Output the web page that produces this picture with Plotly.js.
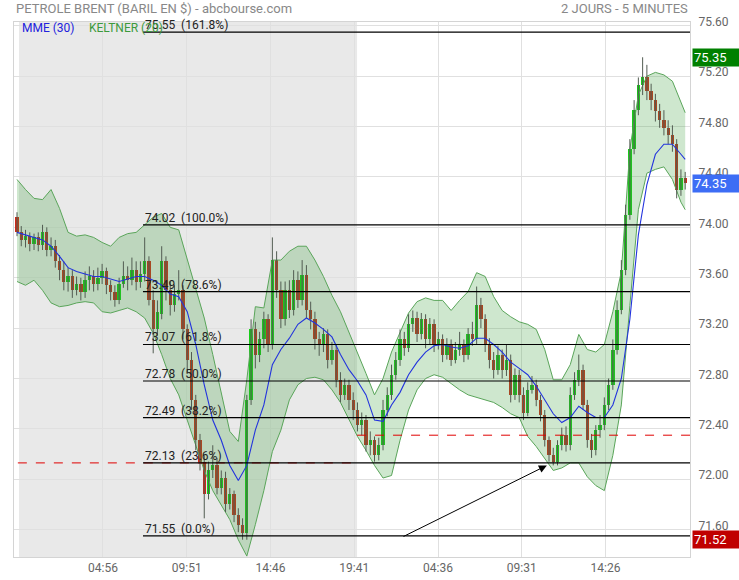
<!DOCTYPE html>
<html><head><meta charset="utf-8">
<script src="https://cdn.plot.ly/plotly-3.0.1.min.js"></script>
<style>html,body{margin:0;padding:0;background:#fff}#chart{width:739px;height:580px}</style>
</head><body><div id="chart"></div>
<script>
const timeLabels = ['04:56','09:51','14:46','19:41','04:36','09:31','14:26'];

const open = [
74.08,73.96,73.90,73.93,73.87,73.92,73.86,73.96,73.82,73.85,
73.73,73.66,73.57,73.61,73.50,73.55,73.49,73.58,73.61,73.55,
73.60,73.65,73.54,73.49,73.42,73.55,73.61,73.58,73.66,73.57,
73.63,73.73,73.42,73.19,73.31,73.73,73.50,73.38,73.47,73.50,
73.19,72.95,72.63,72.31,72.14,71.88,72.07,72.11,71.93,72.01,
71.80,71.88,71.72,71.64,71.57,72.63,73.19,72.99,73.11,73.27,
73.07,73.74,73.50,73.27,73.50,73.34,73.58,73.42,73.62,73.34,
73.27,73.11,73.07,73.15,72.95,73.03,72.79,72.67,72.75,72.63,
72.55,72.43,72.47,72.27,72.31,72.19,72.27,72.55,72.67,72.83,
72.95,73.11,73.04,73.23,73.28,73.15,73.27,73.11,73.23,73.07,
73.11,72.99,73.07,72.95,73.03,73.07,72.99,73.15,73.11,73.38,
73.27,73.07,72.95,72.87,72.99,72.87,72.95,72.67,72.83,72.67,
72.53,72.71,72.75,72.63,72.51,72.31,72.19,72.14,72.27,72.35,
72.27,72.67,72.79,72.87,72.59,72.31,72.23,72.39,72.43,72.59,
72.75,73.03,73.34,73.66,74.10,74.62,74.93,75.13,75.19,75.08,
75.01,74.92,74.85,74.79,74.73,74.66,74.30,74.39];

const close = [
73.96,73.90,73.93,73.87,73.92,73.86,73.96,73.82,73.85,73.73,
73.66,73.57,73.61,73.50,73.55,73.49,73.58,73.61,73.55,73.60,
73.65,73.54,73.49,73.42,73.55,73.61,73.58,73.66,73.57,73.63,
73.73,73.42,73.19,73.33,73.73,73.50,73.38,73.47,73.50,73.19,
72.95,72.63,72.31,72.14,71.88,72.07,72.11,71.93,72.01,71.80,
71.88,71.72,71.64,71.57,72.63,73.19,72.99,73.11,73.27,73.07,
73.74,73.50,73.27,73.50,73.34,73.58,73.42,73.62,73.34,73.27,
73.11,73.07,73.15,72.95,73.03,72.79,72.67,72.75,72.63,72.55,
72.43,72.47,72.27,72.31,72.19,72.27,72.55,72.67,72.83,72.95,
73.11,73.04,73.23,73.28,73.15,73.27,73.11,73.23,73.07,73.11,
72.99,73.07,72.95,73.03,73.07,72.99,73.15,73.11,73.38,73.27,
73.07,72.95,72.87,72.99,72.87,72.95,72.67,72.83,72.67,72.53,
72.71,72.75,72.63,72.51,72.31,72.19,72.14,72.27,72.35,72.27,
72.67,72.79,72.87,72.59,72.31,72.23,72.39,72.43,72.59,72.75,
73.03,73.34,73.66,74.10,74.62,74.93,75.13,75.19,75.08,75.01,
74.92,74.85,74.79,74.73,74.66,74.30,74.39,74.35];

const high = [
74.12,74.01,73.98,73.96,73.95,73.96,74.02,74.00,73.92,73.90,
73.78,73.73,73.68,73.66,73.61,73.60,73.65,73.69,73.66,73.68,
73.71,73.68,73.58,73.54,73.60,73.73,73.69,73.76,73.73,73.73,
73.92,73.77,73.50,73.42,73.85,73.77,73.57,73.54,73.66,73.54,
73.23,73.01,72.67,72.36,72.19,72.14,72.27,72.17,72.07,72.06,
71.93,71.91,71.77,71.69,72.67,73.27,73.25,73.17,73.33,73.31,
73.92,73.81,73.57,73.57,73.58,73.66,73.65,73.74,73.70,73.41,
73.33,73.17,73.20,73.19,73.09,73.07,72.85,72.80,72.79,72.69,
72.61,72.53,72.51,72.38,72.34,72.33,72.63,72.73,72.91,73.01,
73.19,73.17,73.31,73.34,73.33,73.32,73.31,73.28,73.27,73.17,
73.15,73.12,73.11,73.09,73.17,73.11,73.20,73.25,73.53,73.44,
73.31,73.12,73.01,73.06,73.03,73.07,72.99,72.88,72.87,72.73,
72.77,72.82,72.79,72.67,72.55,72.34,72.25,72.31,72.41,72.42,
72.73,72.85,72.99,72.91,72.63,72.36,72.43,72.51,72.65,72.80,
73.11,73.42,73.74,74.18,74.70,75.01,75.19,75.35,75.29,75.14,
75.06,74.98,74.93,74.85,74.81,74.70,74.46,74.44];

const low = [
73.93,73.85,73.84,73.81,73.82,73.81,73.82,73.77,73.77,73.68,
73.58,73.50,73.49,73.44,73.46,73.42,73.44,73.50,73.49,73.50,
73.55,73.47,73.42,73.37,73.39,73.52,73.50,73.54,73.50,73.52,
73.57,73.38,73.00,73.14,73.27,73.42,73.30,73.33,73.42,73.11,
72.85,72.55,72.23,72.07,71.69,71.84,72.01,71.88,71.88,71.74,
71.76,71.66,71.58,71.52,71.52,72.59,72.88,72.93,73.04,73.01,
73.03,73.44,73.20,73.22,73.28,73.30,73.36,73.38,73.28,73.19,
73.03,72.98,73.01,72.88,72.91,72.73,72.61,72.63,72.55,72.47,
72.38,72.35,72.22,72.19,72.14,72.15,72.23,72.50,72.63,72.79,
72.90,72.98,73.01,73.17,73.09,73.11,73.04,73.07,73.01,73.03,
72.93,72.95,72.90,72.92,72.98,72.93,72.95,73.06,73.07,73.20,
73.01,72.88,72.80,72.83,72.80,72.82,72.61,72.63,72.61,72.47,
72.50,72.68,72.58,72.46,72.26,72.14,72.11,72.11,72.23,72.22,
72.23,72.63,72.74,72.55,72.25,72.17,72.19,72.33,72.39,72.55,
72.71,72.99,73.31,73.62,74.06,74.58,74.89,75.05,75.01,74.93,
74.84,74.79,74.73,74.66,74.60,74.23,74.25,74.30];

// Keltner (20) upper / lower and MME (30), read every second candle (last value = last candle)
const kUpper = [
74.38,74.30,74.23,74.22,74.30,74.15,73.96,73.93,73.94,73.92,
73.88,73.85,73.92,73.95,73.96,74.02,74.08,74.11,74.00,73.98,
73.74,73.50,73.28,72.99,72.69,72.38,72.30,72.79,73.37,73.36,
73.74,73.74,73.81,73.85,73.85,73.74,73.61,73.46,73.33,73.17,
73.01,72.84,72.67,72.80,73.01,73.17,73.32,73.41,73.44,73.42,
73.42,73.34,73.42,73.49,73.64,73.61,73.45,73.34,73.29,73.25,
73.23,73.19,73.03,72.79,72.79,72.91,73.15,73.03,73.01,73.07,
73.33,73.65,74.62,75.05,75.20,75.23,75.21,75.16,74.99,74.91];

const kLower = [
73.57,73.54,73.58,73.50,73.40,73.37,73.38,73.40,73.41,73.40,
73.33,73.32,73.34,73.36,73.33,73.28,73.16,72.99,72.80,72.67,
72.47,72.27,72.07,71.91,71.80,71.68,71.52,71.39,71.64,71.91,
72.22,72.39,72.63,72.75,72.80,72.81,72.79,72.71,72.61,72.47,
72.34,72.23,72.11,72.01,72.03,72.31,72.55,72.71,72.80,72.83,
72.81,72.76,72.71,72.67,72.65,72.63,72.61,72.57,72.52,72.49,
72.34,72.26,72.17,72.07,72.09,72.13,72.13,72.02,71.95,71.91,
72.19,72.59,73.38,74.14,74.43,74.46,74.48,74.38,74.20,74.14];

const mme = [
73.96,73.94,73.92,73.90,73.85,73.77,73.68,73.65,73.63,73.61,
73.61,73.59,73.57,73.59,73.61,73.61,73.58,73.54,73.47,73.45,
73.33,73.07,72.75,72.47,72.31,72.11,71.99,72.11,72.39,72.59,
72.91,73.03,73.12,73.23,73.28,73.24,73.19,73.13,72.99,72.87,
72.78,72.67,72.47,72.46,72.59,72.69,72.83,72.93,73.01,73.06,
73.07,73.05,73.04,73.06,73.12,73.12,73.07,73.01,72.93,72.88,
72.83,72.74,72.63,72.52,72.45,72.49,72.58,72.53,72.49,72.49,
72.59,72.80,73.27,73.94,74.34,74.58,74.66,74.66,74.58,74.54];

const fibLevels = [75.55, 74.02, 73.49, 73.07, 72.78, 72.49, 72.13, 71.55];
const fibPct = ['161.8%','100.0%','78.6%','61.8%','50.0%','38.2%','23.6%','0.0%'];

const prevClose1 = 72.13;
const prevClose2 = 72.35;
const dayHigh = 75.35, lastPrice = 74.35, dayLow = 71.52;

const N = close.length;
const idx = close.map((_, i) => i);
const wickX = [], wickY = [];
idx.forEach(i => { wickX.push(i, i, null); wickY.push(high[i], low[i], null); });
const bodyBase = idx.map(i => Math.min(open[i], close[i]));
const bodyLen = idx.map(i => Math.max(Math.abs(close[i] - open[i]), 0.006));
const bodyColor = idx.map(i => close[i] >= open[i] ? '#18cc18' : '#cc2a1a');
const bandX = kUpper.map((_, k) => Math.min(2 * k, N - 1));

const X0 = -0.705, X1 = 158.13;
const dayBreak = 79.9;
const fibStart = 29.6;

const FONT = 'Roboto, "Open Sans", sans-serif';

const traces = [
  {x: bandX, y: kLower, type: 'scatter', mode: 'lines', line: {color: '#5aa55a', width: 1}, hoverinfo: 'skip'},
  {x: bandX, y: kUpper, type: 'scatter', mode: 'lines', fill: 'tonexty', fillcolor: 'rgba(60,160,60,0.25)', line: {color: '#5aa55a', width: 1}, hoverinfo: 'skip'},
  {x: wickX, y: wickY, type: 'scatter', mode: 'lines', line: {color: '#525c52', width: 1}, hoverinfo: 'skip', connectgaps: false},
  {x: idx, y: bodyLen, base: bodyBase, type: 'bar', width: 0.78, marker: {color: bodyColor, line: {width: 0}}, hoverinfo: 'skip'},
  {x: bandX, y: mme, type: 'scatter', mode: 'lines', line: {color: '#2233dd', width: 1.1}, hoverinfo: 'skip'}
];

const shapes = [
  {type: 'rect', xref: 'x', yref: 'paper', x0: 0.47, x1: dayBreak, y0: 0, y1: 1, fillcolor: '#e9e9e9', line: {width: 0}, layer: 'below'},
  {type: 'line', xref: 'x', yref: 'y', x0: 0.2, x1: dayBreak, y0: prevClose1, y1: prevClose1, line: {color: '#e00000', width: 1, dash: 'dash'}},
  {type: 'line', xref: 'x', yref: 'y', x0: dayBreak, x1: X1, y0: prevClose2, y1: prevClose2, line: {color: '#e00000', width: 1, dash: 'dash'}}
];
fibLevels.forEach(v => shapes.push({type: 'line', xref: 'x', yref: 'y', x0: fibStart, x1: X1, y0: v, y1: v, line: {color: '#000', width: 1.2}}));

const annotations = [];
fibLevels.forEach((v, k) => annotations.push({
  x: fibStart, y: v, xref: 'x', yref: 'y', xanchor: 'left', yanchor: 'bottom', yshift: -2,
  text: v.toFixed(2) + '  (' + fibPct[k] + ')', showarrow: false, font: {family: FONT, size: 12, color: '#222'}
}));
annotations.push({x: 0.009, y: 0.9888, xref: 'paper', yref: 'paper', xanchor: 'left', yanchor: 'middle', text: 'MME (30)', showarrow: false, font: {family: FONT, size: 12, color: '#2222dd'}});
annotations.push({x: 0.108, y: 0.9888, xref: 'paper', yref: 'paper', xanchor: 'left', yanchor: 'middle', text: 'KELTNER (20)', showarrow: false, font: {family: FONT, size: 12, color: '#3c9a3c'}});
annotations.push({x: 0, y: 1.0243, xref: 'paper', yref: 'paper', xanchor: 'left', yanchor: 'middle', text: 'PETROLE BRENT (BARIL EN $) - abcbourse.com', showarrow: false, font: {family: FONT, size: 13, color: '#888'}});
annotations.push({x: 1, y: 1.0243, xref: 'paper', yref: 'paper', xanchor: 'right', yanchor: 'middle', text: '2 JOURS - 5 MINUTES', showarrow: false, font: {family: FONT, size: 13, color: '#888'}});
[[dayHigh, '#008000'], [lastPrice, '#3d6df5'], [dayLow, '#c00000']].forEach(([v, c]) => annotations.push({
  x: 1, y: v, xref: 'paper', yref: 'y', xanchor: 'left', yanchor: 'middle', xshift: 2, text: v.toFixed(2), showarrow: false,
  bgcolor: c, width: 46, height: 15, align: 'left', borderpad: 1, font: {family: FONT, size: 13, color: '#fff'}
}));
annotations.push({x: 124.5, y: 72.11, ax: 90.46, ay: 71.54, xref: 'x', yref: 'y', axref: 'x', ayref: 'y', text: '', showarrow: true, arrowhead: 2, arrowsize: 1.6, arrowwidth: 1, arrowcolor: '#000'});

const layout = {
  width: 739, height: 580,
  margin: {l: 14, r: 49, t: 22, b: 23},
  paper_bgcolor: '#fff', plot_bgcolor: '#fff',
  showlegend: false, barmode: 'overlay', bargap: 0,
  font: {family: FONT},
  xaxis: {range: [X0, X1], tickvals: [20.2, 39.88, 59.56, 79.24, 98.92, 118.6, 138.28], ticktext: timeLabels,
    showgrid: true, gridcolor: '#e0e0e0', showline: true, linecolor: '#d4d4d4', mirror: true, zeroline: false, ticks: '',
    tickfont: {family: FONT, size: 12, color: '#666'}, fixedrange: true},
  yaxis: {range: [71.383, 75.63], side: 'right', tick0: 71.6, dtick: 0.4, tickformat: '.2f',
    showgrid: true, gridcolor: '#e0e0e0', showline: true, linecolor: '#d4d4d4', mirror: true, zeroline: false, ticks: '',
    ticklabelstandoff: 5, ticklabelshift: -4, tickfont: {family: FONT, size: 12, color: '#666'}, fixedrange: true},
  shapes: shapes,
  annotations: annotations
};

Plotly.newPlot('chart', traces, layout, {displayModeBar: false, staticPlot: true});
</script>
</body></html>
